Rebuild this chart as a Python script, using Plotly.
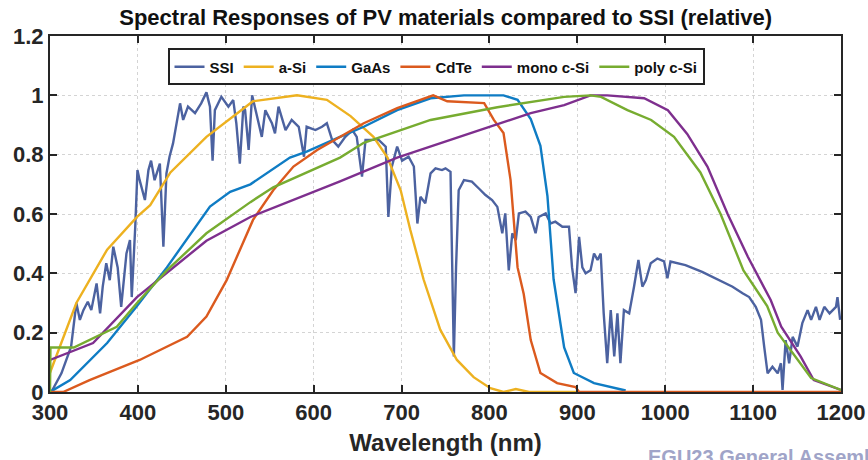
import plotly.graph_objects as go

# ---------------- data ----------------
ssi_nm = [301.5, 313, 324, 330, 334, 338, 343, 347, 353, 357, 360, 364, 368, 372, 377, 381, 387, 391, 393, 396,
          397, 399.5, 402, 408, 412, 415, 419, 425, 429, 432.5, 436, 440, 444, 448, 451.5, 457, 465, 472, 478, 482,
          485, 487.6, 495, 503, 508.5, 512, 516, 520, 522, 526, 530, 537, 541, 545, 552.5, 556, 560, 568, 575, 583,
          589, 592, 602, 609.5, 615, 621, 628, 636, 644, 649, 655, 659, 666, 674, 682, 685, 689, 695, 700.6, 708,
          714, 718, 721.5, 727, 733, 738.6, 746, 750, 755.7, 758, 759.5, 762, 765, 771, 780, 788, 795.5, 803, 809,
          814.6, 818, 822, 826, 830, 833.5, 841, 847, 852.5, 856, 864, 869.6, 875, 883, 890.5, 894, 898, 902, 905.7,
          909.5, 915, 919, 923, 926.6, 930, 934, 938, 942, 945.6, 949, 953, 959, 964.5, 969.5, 974, 978, 983.5, 991,
          998.7, 1002.5, 1006, 1023, 1042, 1061, 1076.6, 1088, 1095.5, 1103, 1109, 1112.6, 1116.5, 1122, 1128,
          1131.6, 1133.5, 1137, 1141, 1145, 1150.5, 1156, 1162, 1166, 1171.5, 1175.6, 1181, 1187, 1190.5, 1194.3,
          1196, 1199]
ssi_val = [0.0, 0.063, 0.153, 0.30, 0.243, 0.276, 0.304, 0.276, 0.366, 0.265, 0.355, 0.434, 0.377, 0.49, 0.42,
           0.287, 0.467, 0.512, 0.32, 0.479, 0.557, 0.748, 0.714, 0.647, 0.748, 0.78, 0.714, 0.77, 0.49, 0.737, 0.793,
           0.838, 0.906, 0.973, 0.917, 0.962, 0.94, 0.973, 1.01, 0.962, 0.78, 0.95, 0.995, 0.962, 0.984, 0.906, 0.77,
           0.962, 0.95, 0.816, 1.0, 0.917, 0.86, 0.95, 0.906, 0.872, 0.962, 0.883, 0.917, 0.894, 0.793, 0.894, 0.883,
           0.894, 0.906, 0.85, 0.827, 0.86, 0.883, 0.86, 0.726, 0.85, 0.85, 0.85, 0.827, 0.59, 0.76, 0.827, 0.78,
           0.793, 0.76, 0.568, 0.658, 0.636, 0.737, 0.754, 0.748, 0.754, 0.742, 0.42, 0.12, 0.42, 0.68, 0.714, 0.709,
           0.686, 0.664, 0.647, 0.624, 0.535, 0.602, 0.41, 0.535, 0.512, 0.602, 0.608, 0.59, 0.535, 0.59, 0.602, 0.568,
           0.574, 0.557, 0.557, 0.42, 0.333, 0.523, 0.42, 0.40, 0.41, 0.467, 0.445, 0.467, 0.265, 0.097, 0.276, 0.12,
           0.265, 0.097, 0.276, 0.265, 0.355, 0.445, 0.355, 0.377, 0.434, 0.45, 0.44, 0.383, 0.44, 0.428, 0.405,
           0.377, 0.355, 0.333, 0.32, 0.287, 0.243, 0.153, 0.063, 0.085, 0.063, 0.097, 0.007, 0.175, 0.097, 0.186,
           0.153, 0.232, 0.276, 0.243, 0.287, 0.243, 0.287, 0.265, 0.276, 0.287, 0.32, 0.243]

asi_nm = [300, 330, 365, 399, 414, 437, 478, 531, 581, 615, 642, 668, 684, 699, 710, 725, 744, 763, 782, 801, 816,
          830, 845, 900]
asi_val = [0.065, 0.30, 0.48, 0.59, 0.63, 0.74, 0.86, 0.98, 1.0, 0.985, 0.93, 0.86, 0.79, 0.68, 0.546, 0.38, 0.21,
           0.108, 0.05, 0.013, 0.0, 0.01, 0.0, 0.0]

gaas_nm = [300, 323, 365, 399, 433, 482, 505, 528, 573, 592, 630, 657, 695, 733, 771, 816, 832, 847, 858, 866, 873,
           885, 896, 919, 955]
gaas_val = [0.0, 0.04, 0.165, 0.29, 0.42, 0.625, 0.675, 0.70, 0.79, 0.81, 0.86, 0.894, 0.95, 0.99, 1.0, 1.0, 0.985,
            0.92, 0.83, 0.66, 0.38, 0.15, 0.064, 0.03, 0.005]

cdte_nm = [300, 315, 345, 402, 456, 478, 501, 531, 554, 577, 604, 630, 657, 695, 736, 752, 794, 805, 816, 824, 832,
           839, 847, 858, 877, 898, 902, 1200]
cdte_val = [0.0, 0.0, 0.04, 0.108, 0.186, 0.254, 0.377, 0.58, 0.68, 0.76, 0.816, 0.86, 0.906, 0.957, 1.0, 0.98,
            0.974, 0.917, 0.873, 0.715, 0.42, 0.33, 0.175, 0.064, 0.03, 0.017, 0.0, 0.0]

mono_nm = [300, 349, 399, 478, 528, 630, 695, 771, 847, 885, 915, 934, 976, 1003, 1025, 1048, 1071, 1094, 1120,
           1132, 1154, 1169, 1200]
mono_val = [0.108, 0.165, 0.32, 0.51, 0.59, 0.71, 0.79, 0.866, 0.94, 0.967, 1.0, 1.0, 0.99, 0.95, 0.87, 0.76, 0.60,
            0.456, 0.31, 0.22, 0.12, 0.04, 0.007]

poly_nm = [300, 300.5, 327, 353, 376, 399, 433, 478, 528, 554, 630, 657, 733, 809, 885, 915, 927, 957, 984, 1010,
           1040, 1063, 1089, 1116, 1128, 1166, 1200]
poly_val = [0.0, 0.15, 0.15, 0.186, 0.22, 0.30, 0.41, 0.535, 0.64, 0.69, 0.79, 0.84, 0.917, 0.96, 0.995, 1.0, 0.995,
            0.95, 0.917, 0.86, 0.74, 0.60, 0.41, 0.29, 0.20, 0.047, 0.007]

x_ticks = [300, 400, 500, 600, 700, 800, 900, 1000, 1100, 1200]
y_ticks = [0, 0.2, 0.4, 0.6, 0.8, 1, 1.2]
y_tick_text = ["0", "0.2", "0.4", "0.6", "0.8", "1", "1.2"]

series = [
    ("SSI", ssi_nm, ssi_val, "#4c62a0"),
    ("a-Si", asi_nm, asi_val, "#EDB120"),
    ("GaAs", gaas_nm, gaas_val, "#0f7cc4"),
    ("CdTe", cdte_nm, cdte_val, "#DB5A1E"),
    ("mono c-Si", mono_nm, mono_val, "#7E2F8E"),
    ("poly c-Si", poly_nm, poly_val, "#77AC30"),
]

FONT = "Liberation Sans, Arial, sans-serif"

fig = go.Figure()
for name, xs, ys, col in series:
    fig.add_trace(go.Scatter(x=xs, y=ys, mode="lines", name="<b>" + name + "</b>",
                             line=dict(color=col, width=2.4)))

axis_font = dict(family=FONT, size=22, color="#262626")
common = dict(showline=True, linecolor="#262626", linewidth=2, mirror="ticks",
              ticks="inside", ticklen=7, tickwidth=2, tickcolor="#262626",
              showgrid=True, gridcolor="#d4d4d4", griddash="dot", gridwidth=1,
              zeroline=False, tickfont=axis_font, automargin=False)

fig.update_xaxes(range=[300, 1200], tickvals=x_ticks,
                 ticktext=["<b>%d</b>" % v for v in x_ticks],
                 title=dict(text="<b>Wavelength (nm)</b>",
                            font=dict(family=FONT, size=24, color="#262626"), standoff=10),
                 **common)
fig.update_yaxes(range=[0, 1.2], tickvals=y_ticks,
                 ticktext=["<b>%s</b>" % s for s in y_tick_text], **common)

fig.update_layout(
    width=868, height=460,
    margin=dict(l=50, r=27, t=36, b=68),
    paper_bgcolor="white", plot_bgcolor="white",
    title=dict(text="<b>Spectral Responses of PV materials compared to SSI (relative)</b>",
               x=0.5135, xanchor="center", y=0.962, yanchor="middle",
               font=dict(family=FONT, size=22, color="#111111")),
    legend=dict(orientation="h", x=0.488, xanchor="center", y=0.965, yanchor="top",
                bgcolor="white", bordercolor="#222222", borderwidth=2,
                font=dict(family=FONT, size=15, color="#111111"),
                tracegroupgap=0, itemwidth=30),
    showlegend=True,
)

fig.add_annotation(text="<b>EGU23 General Assembly</b>", xref="paper", yref="paper",
                   x=0.754, y=-0.182, xanchor="left", yanchor="middle", showarrow=False,
                   font=dict(family=FONT, size=20, color="#a0a4c8"))

fig.write_html("out.html")
